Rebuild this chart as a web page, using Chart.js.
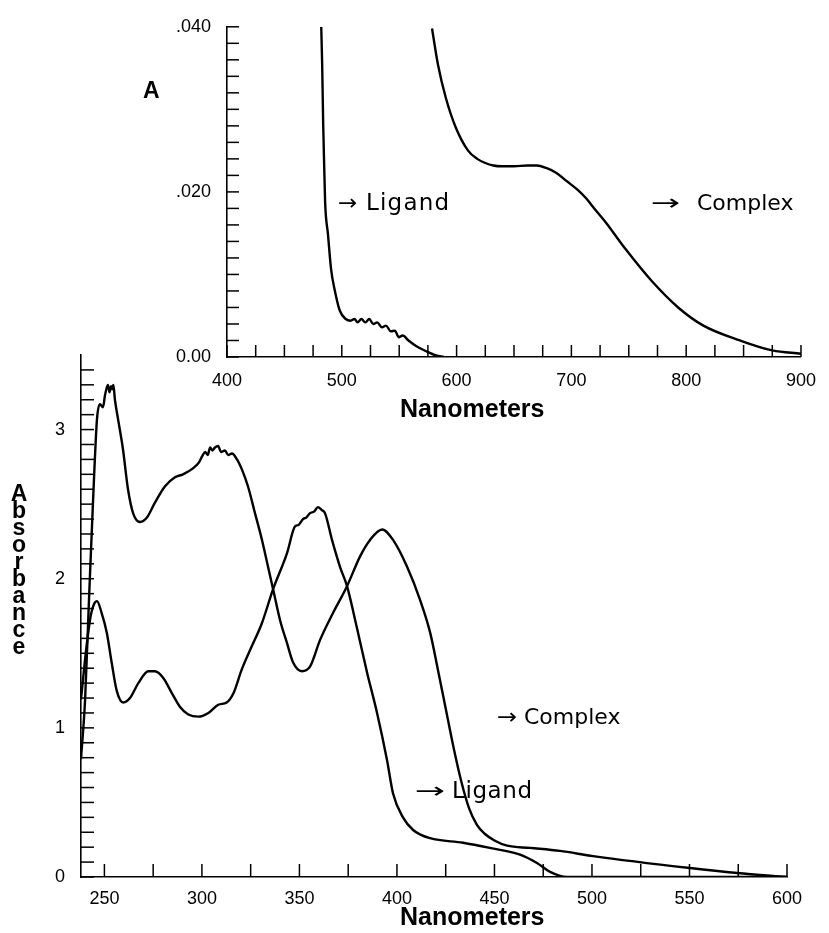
<!DOCTYPE html>
<html><head><meta charset="utf-8">
<script src="https://cdn.jsdelivr.net/npm/chart.js@4/dist/chart.umd.min.js"></script>
<style>
html,body{margin:0;padding:0;background:#fff;}
#wrap{position:relative;width:829px;height:933px;overflow:hidden;background:#fff;}
canvas{position:absolute;left:0;top:0;}
.t{position:absolute;white-space:nowrap;line-height:1;color:#000;}
.ann{font-family:"DejaVu Sans",sans-serif;font-size:22px;}
.arr{font-family:"DejaVu Sans",sans-serif;font-size:22px;transform-origin:0 50%;}
.ttl{font-family:"Liberation Sans",Arial,sans-serif;font-weight:bold;font-size:25px;}
#absorb{font-family:"Liberation Sans",Arial,sans-serif;font-weight:bold;font-size:23px;line-height:17px;text-align:center;width:26px;white-space:normal;}
</style></head><body>
<div id="wrap">
<canvas id="cBottom" width="829" height="933"></canvas>
<canvas id="cTop" width="829" height="933"></canvas>
<div class="t ttl" style="left:143px;top:79px;font-size:23px;">A</div>
<div class="t ttl" style="left:400px;top:396px;">Nanometers</div>
<div class="t ttl" style="left:400px;top:904px;">Nanometers</div>
<div class="t" id="absorb" style="left:6px;top:485px;">A<br>b<br>s<br>o<br>r<br>b<br>a<br>n<br>c<br>e</div>
<div class="t arr" style="left:338px;top:192px;transform:scaleX(1.05);">→</div>
<div class="t ann" style="left:366px;top:191px;font-size:23px;letter-spacing:1.2px;">Ligand</div>
<div class="t arr" style="left:651px;top:192px;transform:scaleX(1.6);">→</div>
<div class="t ann" style="left:697px;top:192px;">Complex</div>
<div class="t arr" style="left:497px;top:706px;transform:scaleX(1.1);">→</div>
<div class="t ann" style="left:524px;top:706px;">Complex</div>
<div class="t arr" style="left:415px;top:780px;transform:scaleX(1.65);">→</div>
<div class="t ann" style="left:452px;top:779px;font-size:23px;letter-spacing:0.6px;">Ligand</div>
</div>
<script>
// ---------- Upper panel (visible region) ----------
const topLigandNm = [482.1,482.9,483.8,484.6,485.5,488.0,490.6,494.0,498.3,503.4,507.7,511.1,513.7,517.1,520.5,523.9,527.4,530.8,535.0,538.5,542.7,546.2,549.6,553.0,558.1,565.0,573.5,582.1,588.9];
const topLigandA  = [0.0400,0.0354,0.0282,0.0235,0.0187,0.0148,0.0107,0.0080,0.0056,0.0046,0.0044,0.0046,0.0042,0.0046,0.0042,0.0046,0.0040,0.0042,0.0036,0.0038,0.0031,0.0032,0.0024,0.0026,0.0020,0.0013,0.0007,0.0002,0.0000];
const topComplexNm = [578.6,583.8,590.6,599.0,610.0,618.0,625.0,632.0,639.0,650.0,661.5,670.0,678.0,687.0,696.0,705.0,713.0,721.0,730.0,747.0,770.0,793.0,815.0,847.0,875.0,900.0];
const topComplexA  = [0.0398,0.0354,0.0314,0.0279,0.0250,0.0240,0.0235,0.0232,0.0231,0.0231,0.0232,0.0232,0.0229,0.0223,0.0213,0.0203,0.0192,0.0178,0.0163,0.0131,0.0092,0.0060,0.0038,0.0020,0.0008,0.0004];
const topXLabels = [400,500,600,700,800,900];
const topYLabels = [0,0.02,0.04];
const topYLabelText = ["0.00",".020",".040"];

// ---------- Lower panel (UV region) ----------
const botComplexNm = [238.0,240.1,242.1,244.2,246.2,247.7,249.3,250.3,251.8,252.6,253.4,253.9,254.6,255.4,257.0,259.5,262.1,264.7,268.3,271.8,275.9,281.1,286.2,290.3,295.4,298.5,300.1,301.6,303.0,304.2,305.4,306.7,308.3,309.8,311.8,313.5,315.4,318.0,320.6,323.6,327.2,330.8,333.9,336.5,340.1,343.6,346.7,351.3,355.4,360.6,367.2,374.4,381.1,386.2,392.4,398.0,405.2,411.8,417.0,421.0,425.0,429.0,433.0,437.0,441.0,445.0,450.0,456.5,468.3,483.6,500.6,550.3,574.4,600.0];
const botComplexA  = [0.79,1.19,1.86,2.53,3.07,3.17,3.15,3.23,3.30,3.25,3.29,3.27,3.30,3.20,3.07,2.87,2.60,2.44,2.38,2.41,2.51,2.62,2.68,2.70,2.74,2.78,2.82,2.85,2.83,2.88,2.86,2.88,2.89,2.85,2.86,2.83,2.84,2.80,2.73,2.62,2.44,2.26,2.08,1.93,1.72,1.57,1.44,1.38,1.41,1.59,1.77,1.95,2.15,2.26,2.33,2.26,2.08,1.86,1.64,1.39,1.13,0.87,0.64,0.46,0.35,0.29,0.245,0.21,0.195,0.175,0.14,0.06,0.027,0.0];
const botLigandNm = [238.0,240.6,243.1,244.7,246.2,248.6,251.2,253.7,256.3,259.7,263.1,267.4,272.5,275.9,280.2,284.5,288.8,293.0,298.2,303.3,308.4,312.7,316.1,320.4,325.5,330.7,336.5,343.6,347.7,349.5,351.8,353.5,355.4,357.5,359.5,361.5,363.1,366.7,370.8,374.4,379.5,384.7,389.8,394.9,398.0,403.1,408.3,417.0,433.9,447.7,463.1,471.8,478.5,487.2,600.0];
const botLigandA  = [1.19,1.52,1.76,1.83,1.85,1.77,1.64,1.44,1.25,1.17,1.20,1.30,1.38,1.38,1.335,1.235,1.14,1.09,1.075,1.10,1.155,1.17,1.23,1.39,1.545,1.70,1.93,2.17,2.35,2.36,2.40,2.41,2.44,2.45,2.48,2.46,2.44,2.26,2.08,1.95,1.67,1.37,1.10,0.785,0.56,0.40,0.315,0.26,0.23,0.195,0.15,0.094,0.034,0.0,0.0];
const botXLabels = [250,300,350,400,450,500,550,600];
const botYLabels = [0,1,2,3];

function pts(xs, ys){ return xs.map((x,i)=>({x:x, y:ys[i]})); }
function range(a,b,s){ const r=[]; for(let v=a; v<=b+s/1000; v+=s) r.push(+v.toFixed(4)); return r; }

const inwardTicks = {
  id:'inwardTicks',
  afterDraw(chart, args, o){
    const ctx = chart.ctx, xs = chart.scales.x, ys = chart.scales.y;
    const x0 = xs.getPixelForValue(xs.min), y0 = ys.getPixelForValue(ys.min);
    ctx.save(); ctx.strokeStyle='#000'; ctx.lineWidth=1.5; ctx.lineCap='butt';
    o.xTicks.forEach(v=>{ const p=xs.getPixelForValue(v); ctx.beginPath(); ctx.moveTo(p,y0); ctx.lineTo(p,y0-o.len); ctx.stroke(); });
    o.yTicks.forEach(v=>{ const p=ys.getPixelForValue(v); ctx.beginPath(); ctx.moveTo(x0,p); ctx.lineTo(x0+o.len,p); ctx.stroke(); });
    ctx.restore();
  }
};

const lineStyle = {borderColor:'#000', borderWidth:2.4, pointRadius:0, fill:false, cubicInterpolationMode:'monotone'};
const tickFont = {family:'"Liberation Sans", Arial, sans-serif', size:18};

// Upper chart
new Chart(document.getElementById('cTop'), {
  type:'line',
  data:{datasets:[
    Object.assign({label:'Ligand', data:pts(topLigandNm, topLigandA)}, lineStyle),
    Object.assign({label:'Complex', data:pts(topComplexNm, topComplexA)}, lineStyle)
  ]},
  options:{
    responsive:false, animation:false, events:[],
    layout:{padding:{left:0, top:21, right:17, bottom:0}},
    plugins:{legend:{display:false}, tooltip:{enabled:false},
      inwardTicks:{xTicks:range(400,900,25), yTicks:range(0,0.04,0.002), len:12}},
    scales:{
      x:{type:'linear', min:400, max:900,
         afterFit:s=>{s.height=933-357;},
         afterBuildTicks:s=>{s.ticks=topXLabels.map(v=>({value:v}));},
         grid:{display:false, drawTicks:false},
         border:{display:true, color:'#000', width:1.6},
         ticks:{color:'#000', font:tickFont, padding:13, maxRotation:0, autoSkip:false, callback:v=>String(v)}},
      y:{type:'linear', min:0, max:0.04,
         afterFit:s=>{s.width=227;},
         afterBuildTicks:s=>{s.ticks=topYLabels.map(v=>({value:v}));},
         grid:{display:false, drawTicks:false},
         border:{display:true, color:'#000', width:1.6},
         ticks:{color:'#000', font:tickFont, padding:16, autoSkip:false,
                callback:v=>{const i=topYLabels.findIndex(t=>Math.abs(t-v)<1e-9); return i>=0?topYLabelText[i]:'';}}}
    }
  },
  plugins:[inwardTicks]
});

// Lower chart
new Chart(document.getElementById('cBottom'), {
  type:'line',
  data:{datasets:[
    Object.assign({label:'Complex', data:pts(botComplexNm, botComplexA)}, lineStyle),
    Object.assign({label:'Ligand', data:pts(botLigandNm, botLigandA)}, lineStyle)
  ]},
  options:{
    responsive:false, animation:false, events:[],
    layout:{padding:{left:0, top:355, right:42, bottom:0}},
    plugins:{legend:{display:false}, tooltip:{enabled:false},
      inwardTicks:{xTicks:range(250,600,25), yTicks:range(0,3.4,0.1), len:13}},
    scales:{
      x:{type:'linear', min:238, max:600,
         afterFit:s=>{s.height=933-877;},
         afterBuildTicks:s=>{s.ticks=botXLabels.map(v=>({value:v}));},
         grid:{display:false, drawTicks:false},
         border:{display:true, color:'#000', width:1.6},
         ticks:{color:'#000', font:tickFont, padding:11, maxRotation:0, autoSkip:false, callback:v=>String(v)}},
      y:{type:'linear', min:0, max:3.5,
         afterFit:s=>{s.width=81;},
         afterBuildTicks:s=>{s.ticks=botYLabels.map(v=>({value:v}));},
         grid:{display:false, drawTicks:false},
         border:{display:true, color:'#000', width:1.6},
         ticks:{color:'#000', font:tickFont, padding:16, autoSkip:false, callback:v=>String(v)}}
    }
  },
  plugins:[inwardTicks]
});
</script>
</body></html>
